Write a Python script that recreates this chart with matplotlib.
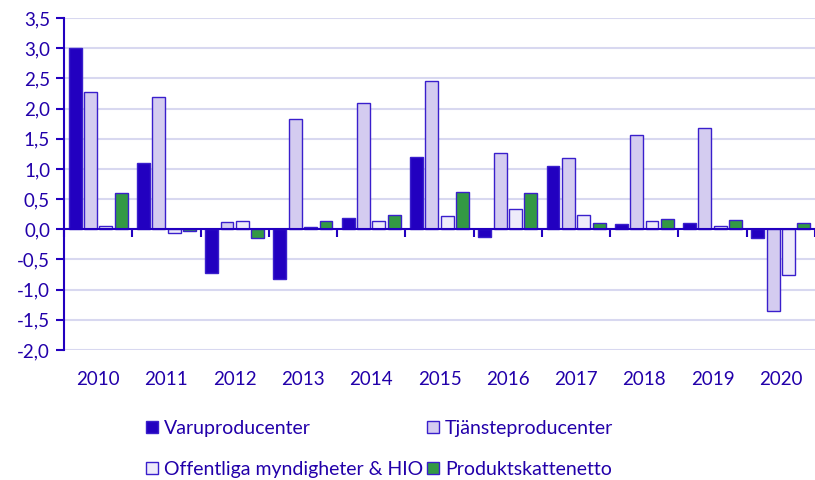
import numpy as np
import matplotlib.pyplot as plt
from matplotlib.transforms import blended_transform_factory

years = ['2010', '2011', '2012', '2013', '2014', '2015', '2016', '2017', '2018', '2019', '2020']
varu = [3.0, 1.1, -0.72, -0.83, 0.19, 1.2, -0.12, 1.04, 0.09, 0.11, -0.15]
tjanst = [2.28, 2.19, 0.12, 1.82, 2.1, 2.45, 1.26, 1.18, 1.56, 1.68, -1.36]
offentl = [0.06, -0.07, 0.14, 0.03, 0.13, 0.22, 0.33, 0.24, 0.14, 0.05, -0.76]
produkt = [0.6, -0.03, -0.14, 0.14, 0.23, 0.62, 0.6, 0.11, 0.17, 0.15, 0.11]

txt = '#2200aa'
edge = '#3a1fcc'

plt.rcParams['font.family'] = ['Lato', 'DejaVu Sans']

fig = plt.figure(figsize=(8.15, 4.8), dpi=100)
ax = fig.add_axes([64/815, 1-350/480, 1-64/815, 332/480])

x = np.arange(len(years))
w = 0.19
step = 0.225
series = [
    (varu, 'Varuproducenter', '#2200c0'),
    (tjanst, 'Tjänsteproducenter', '#d4ccf0'),
    (offentl, 'Offentliga myndigheter & HIO', '#eeebfa'),
    (produkt, 'Produktskattenetto', '#339944'),
]
bars = []
for i, (vals, name, col) in enumerate(series):
    b = ax.bar(x + (i - 1.5)*step, vals, w, color=col, edgecolor=edge,
               linewidth=1.0, label=name, zorder=3)
    bars.append(b)

ax.set_xlim(-0.5, len(years) - 0.5)
ax.set_ylim(-2.0, 3.5)
ax.set_yticks(np.arange(-2.0, 3.51, 0.5))
ax.set_yticklabels([f'{v:.1f}'.replace('.', ',') for v in np.arange(-2.0, 3.51, 0.5)])
ax.grid(axis='y', color='#d8d8f0', linewidth=1.5, zorder=0)

for s in ['top', 'right']:
    ax.spines[s].set_visible(False)
ax.spines['left'].set_color('#2200c0')
ax.spines['left'].set_linewidth(1.5)
ax.spines['bottom'].set_position(('data', 0))
ax.spines['bottom'].set_color('#2200c0')
ax.spines['bottom'].set_linewidth(1.5)
ax.spines['bottom'].set_zorder(4)

ax.set_xticks(np.arange(-0.5, len(years), 1.0))
ax.set_xticklabels([])
ax.tick_params(axis='x', direction='out', length=6, width=1.5, color='#2200c0')
ax.tick_params(axis='y', direction='out', length=6, width=1.5, color='#2200c0',
               labelcolor=txt, labelsize=13.5, pad=4)

tr = blended_transform_factory(ax.transData, ax.transAxes)
for xi, yr in zip(x, years):
    ax.text(xi, -0.09, yr, transform=tr, ha='center', va='center',
            color=txt, fontsize=13.5)

handles = [bars[0], bars[2], bars[1], bars[3]]
labels = [series[0][1], series[2][1], series[1][1], series[3][1]]
fig.legend(handles, labels, ncol=2, loc='center left',
           bbox_to_anchor=(146/815, 1-449/480), borderpad=0, borderaxespad=0,
           frameon=False, fontsize=14, labelcolor=txt, handlelength=0.6,
           handleheight=0.6, handletextpad=0.3, columnspacing=0.25,
           labelspacing=1.25)

fig.savefig('out.png', dpi=100)
